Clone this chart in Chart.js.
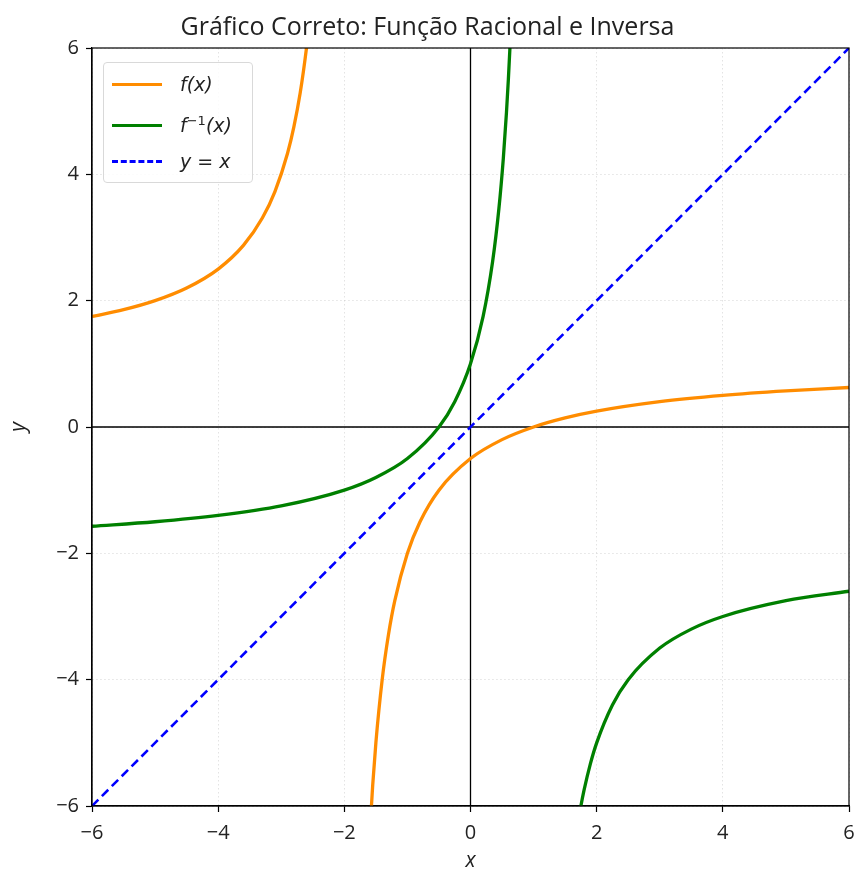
<!DOCTYPE html>
<html>
<head>
<meta charset="utf-8">
<script src="https://cdn.jsdelivr.net/npm/chart.js@4.4.1/dist/chart.umd.min.js"></script>
<style>
  body { margin: 0; background: #fff; }
  #wrap { position: relative; width: 861px; height: 879px; }
  #legend {
    position: absolute; left: 103px; top: 62px; width: 150px; height: 121px;
    border: 1px solid #d9d9d9; border-radius: 4px; background: rgba(255,255,255,0.85);
    font-family: "DejaVu Sans", sans-serif; font-size: 19px; font-style: italic; color: #222;
    box-sizing: border-box;
  }
  .row { position: absolute; left: 8px; height: 24px; display: flex; align-items: center; }
  .swatch { width: 50px; height: 0; margin-right: 18px; }
  sup { font-size: 13px; font-style: normal; }
</style>
</head>
<body>
<div id="wrap">
  <canvas id="chart" width="861" height="879"></canvas>
  <div id="legend">
    <div class="row" style="top:9px"><span class="swatch" style="border-top:3px solid #ff8c00"></span><span>f(x)</span></div>
    <div class="row" style="top:50px"><span class="swatch" style="border-top:3px solid #008000"></span><span>f<sup>−1</sup>(x)</span></div>
    <div class="row" style="top:86px"><span class="swatch" style="border-top:3px dashed #0000ff"></span><span>y = x</span></div>
  </div>
</div>
<script>
// f(x): two branches, null splits them
const fX = [-6, -5.5, -5, -4.5, -4, -3.6, -3.3, -3.1, -2.9, -2.8, -2.7, -2.6, -2.55, -2,
  -1.6, -1.55, -1.5, -1.4, -1.3, -1.2, -1.0, -0.8, -0.5, 0, 0.5, 1, 1.5, 2, 3, 4, 5, 6];
const fY = [1.75, 1.857, 2, 2.2, 2.5, 2.875, 3.308, 3.727, 4.333, 4.75, 5.286, 6.0, 6.45, null,
  -6.5, -5.667, -5, -4, -3.286, -2.75, -2, -1.5, -1, -0.5, -0.2, 0, 0.143, 0.25, 0.4, 0.5, 0.571, 0.625];

// inverse
const gX = [-6, -5, -4, -3, -2, -1.5, -1, -0.5, -0.25, 0, 0.2, 0.35, 0.45, 0.52, 0.57, 0.6, 0.625, 0.65, 1,
  1.7, 1.75, 1.8, 1.9, 2, 2.25, 2.5, 3, 3.5, 4, 5, 6];
const gY = [-1.571, -1.5, -1.4, -1.25, -1, -0.8, -0.5, 0, 0.4, 1, 1.75, 2.615, 3.455, 4.25, 4.977, 5.5, 6, 6.571, null,
  -6.286, -6, -5.75, -5.333, -5, -4.4, -4, -3.5, -3.2, -3, -2.75, -2.6];

const idX = [-6, 6];
const idY = [-6, 6];

const ticks = [-6, -4, -2, 0, 2, 4, 6];

function pts(xs, ys) {
  return xs.map((x, i) => ({ x: x, y: ys[i] }));
}

const font = "'Open Sans', 'DejaVu Sans', sans-serif";

const frame = {
  id: "frame",
  afterDatasetsDraw(chart) {
    const a = chart.chartArea;
    const c = chart.ctx;
    c.save();
    c.strokeStyle = "#000";
    c.lineWidth = 1.2;
    c.strokeRect(a.left, a.top, a.right - a.left, a.bottom - a.top);
    c.restore();
  }
};

function axis(title, w, h, pad, titlePad) {
  return {
    type: "linear",
    min: -6,
    max: 6,
    afterBuildTicks(s) { s.ticks = ticks.map((v) => ({ value: v })); },
    afterFit(s) {
      if (w) s.width = w;
      if (h) {
        s.height = h;
        s.paddingRight = 0;
        s.paddingLeft = 0;
      }
    },
    ticks: {
      color: "#222",
      font: { family: font, size: 20 },
      padding: pad,
      callback: (v) => String(v).replace("-", "\u2212")
    },
    grid: {
      color: "rgba(200,200,200,0.5)",
      lineWidth: 1,
      tickColor: "#000",
      tickLength: 6,
      tickWidth: 1.2
    },
    border: { display: true, color: "#000", width: 1.2, dash: [1.5, 2.5] },
    title: {
      display: true,
      text: title,
      color: "#222",
      font: { family: font, size: 21, style: "italic" },
      padding: titlePad
    }
  };
}

new Chart(document.getElementById("chart"), {
  type: "scatter",
  data: {
    datasets: [
      {
        label: "f(x)",
        data: pts(fX, fY),
        showLine: true,
        borderColor: "#ff8c00",
        borderWidth: 3.3,
        pointRadius: 0,
        cubicInterpolationMode: "monotone",
        spanGaps: false,
        order: 2
      },
      {
        label: "f-1(x)",
        data: pts(gX, gY),
        showLine: true,
        borderColor: "#008000",
        borderWidth: 3.3,
        pointRadius: 0,
        cubicInterpolationMode: "monotone",
        spanGaps: false,
        order: 1
      },
      {
        label: "y = x",
        data: pts(idX, idY),
        showLine: true,
        borderColor: "#0000ff",
        borderWidth: 2.6,
        borderDash: [9, 5],
        pointRadius: 0,
        order: 0
      },
      {
        label: "h0",
        data: [{ x: -6, y: 0 }, { x: 6, y: 0 }],
        showLine: true,
        borderColor: "#000",
        borderWidth: 1.3,
        pointRadius: 0,
        order: 5
      },
      {
        label: "v0",
        data: [{ x: 0, y: -6 }, { x: 0, y: 6 }],
        showLine: true,
        borderColor: "#000",
        borderWidth: 1.3,
        pointRadius: 0,
        order: 5
      }
    ]
  },
  options: {
    responsive: false,
    animation: false,
    layout: { padding: { left: 6, right: 12, top: 0, bottom: 0 } },
    plugins: {
      legend: { display: false },
      tooltip: { enabled: false },
      title: {
        display: true,
        text: "Gráfico Correto: Função Racional e Inversa",
        color: "#222",
        font: { family: font, size: 25, weight: "normal", lineHeight: 1.2 },
        padding: { top: 13, bottom: 5 }
      }
    },
    scales: {
      x: axis("x", 0, 73, 9, { top: 0, bottom: 5 }),
      y: axis("y", 86, 0, 7, { top: 0, bottom: 0 })
    }
  },
  plugins: [frame]
});
</script>
</body>
</html>
